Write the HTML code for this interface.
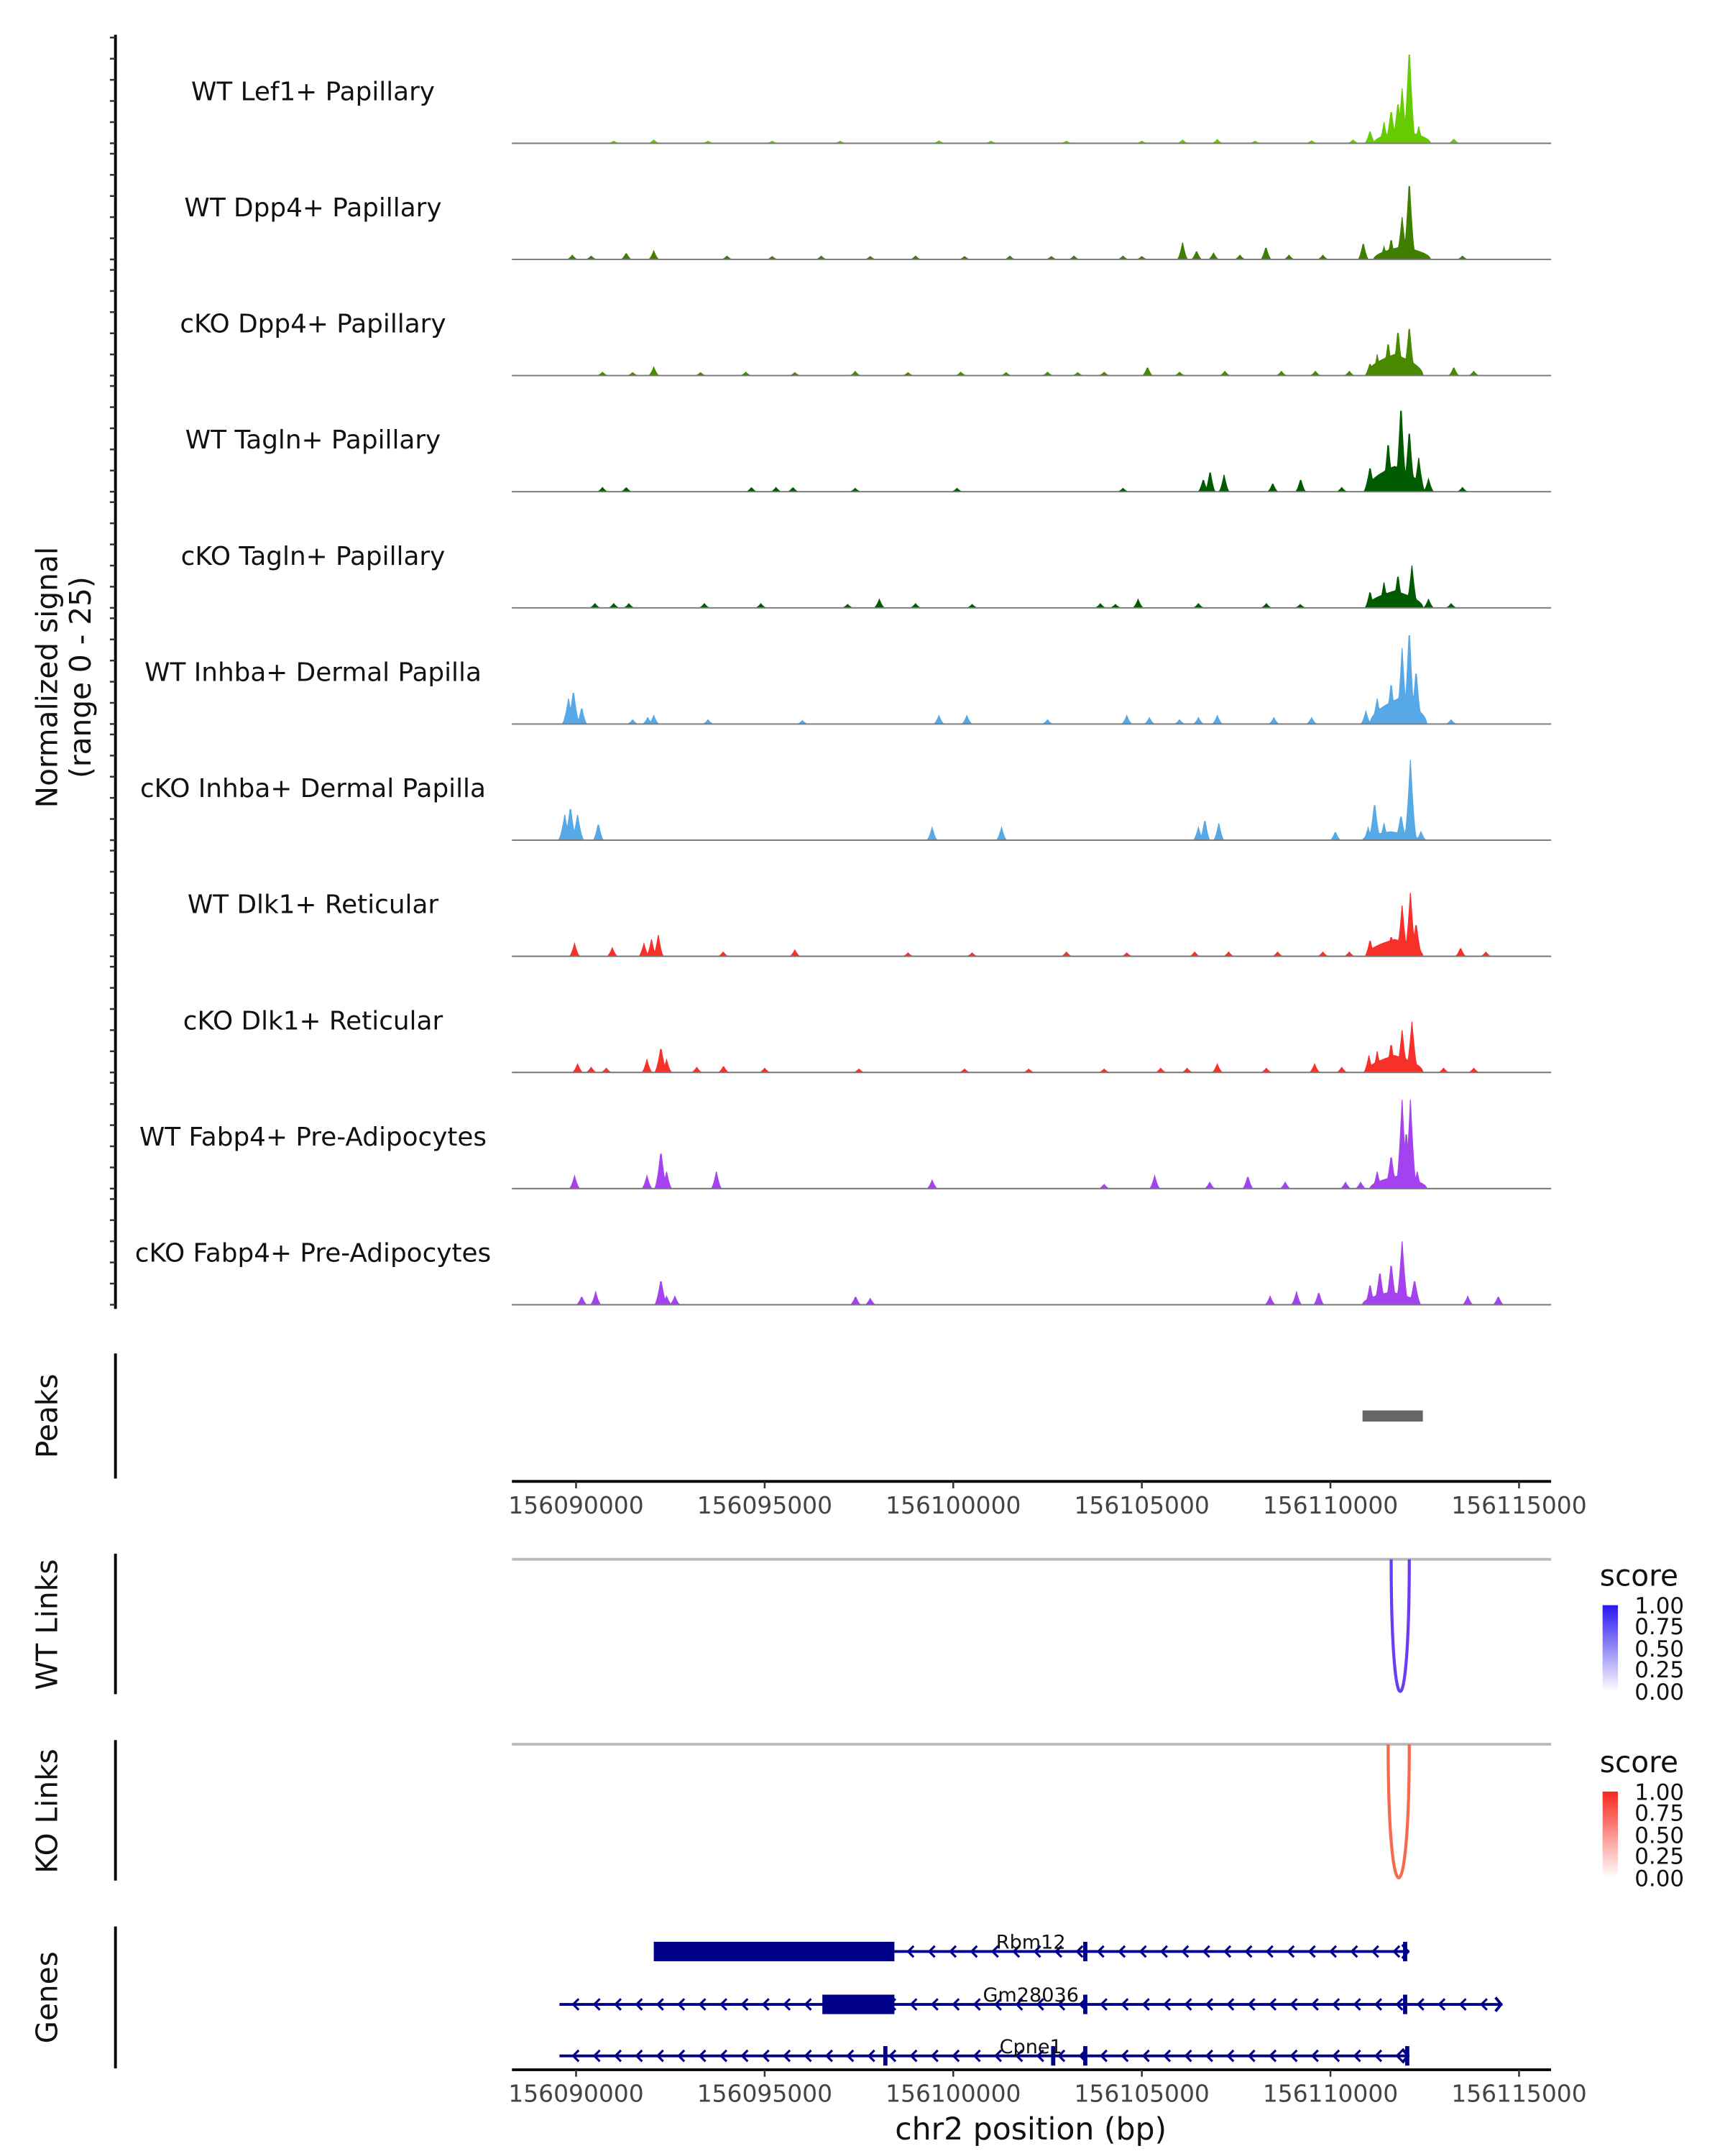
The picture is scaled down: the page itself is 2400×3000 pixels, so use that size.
<!DOCTYPE html>
<html><head><meta charset="utf-8">
<style>
html,body{margin:0;padding:0;background:#fff;}
svg{display:block;font-family:"DejaVu Sans","Liberation Sans",sans-serif;}
</style></head>
<body>
<svg id="chart" xmlns="http://www.w3.org/2000/svg" width="2400" height="3000" viewBox="0 0 1240 1550">
<defs>
<linearGradient id="gBlue" x1="0" y1="1" x2="0" y2="0"><stop offset="0" stop-color="#ffffff"/><stop offset="1" stop-color="#2a16f0"/></linearGradient>
<linearGradient id="gRed" x1="0" y1="1" x2="0" y2="0"><stop offset="0" stop-color="#ffffff"/><stop offset="1" stop-color="#f8281e"/></linearGradient>
</defs>
<g id="tracks"></g>
<text transform="translate(41,487) rotate(-90)" text-anchor="middle" font-size="21" fill="#111">Normalized signal</text>
<text transform="translate(65,487) rotate(-90)" text-anchor="middle" font-size="21" fill="#111">(range 0 - 25)</text>
<g id="peaks">
<line x1="83" y1="973" x2="83" y2="1063" stroke="#000" stroke-width="2"/>
<text transform="translate(41,1018) rotate(-90)" text-anchor="middle" font-size="21" fill="#111">Peaks</text>
</g>
<g id="xaxis1"></g>
<g id="links">
<line x1="83" y1="1117" x2="83" y2="1218" stroke="#000" stroke-width="2"/>
<text transform="translate(41,1168) rotate(-90)" text-anchor="middle" font-size="21" fill="#111">WT Links</text>
<line x1="368" y1="1121" x2="1115" y2="1121" stroke="#bbb" stroke-width="2"/>
<line x1="83" y1="1251" x2="83" y2="1352" stroke="#000" stroke-width="2"/>
<text transform="translate(41,1302) rotate(-90)" text-anchor="middle" font-size="21" fill="#111">KO Links</text>
<line x1="368" y1="1254" x2="1115" y2="1254" stroke="#bbb" stroke-width="2"/>
<g>
<text x="1150" y="1140" font-size="21" fill="#111">score</text>
<rect x="1152" y="1154" width="11" height="62" fill="url(#gBlue)"/>
<g font-size="16" fill="#111"><text x="1175" y="1160">1.00</text><text x="1175" y="1175">0.75</text><text x="1175" y="1191">0.50</text><text x="1175" y="1206">0.25</text><text x="1175" y="1222">0.00</text></g>
</g>
<g>
<text x="1150" y="1274" font-size="21" fill="#111">score</text>
<rect x="1152" y="1288" width="11" height="62" fill="url(#gRed)"/>
<g font-size="16" fill="#111"><text x="1175" y="1294">1.00</text><text x="1175" y="1309">0.75</text><text x="1175" y="1325">0.50</text><text x="1175" y="1340">0.25</text><text x="1175" y="1356">0.00</text></g>
</g>
</g>
<g id="genes">
<line x1="83" y1="1385" x2="83" y2="1487" stroke="#000" stroke-width="2"/>
<text transform="translate(41,1436) rotate(-90)" text-anchor="middle" font-size="21" fill="#111">Genes</text>
</g>
<g id="xaxis2"></g>
<text x="741" y="1538" text-anchor="middle" font-size="22" fill="#111">chr2 position (bp)</text>
</svg>
<script>
// ---- data (positions in kb offset from chr2:156,000,000; heights in signal 0-25) ----
const trackNames = ["WT Lef1+ Papillary","WT Dpp4+ Papillary","cKO Dpp4+ Papillary","WT Tagln+ Papillary","cKO Tagln+ Papillary","WT Inhba+ Dermal Papilla","cKO Inhba+ Dermal Papilla","WT Dlk1+ Reticular","cKO Dlk1+ Reticular","WT Fabp4+ Pre-Adipocytes","cKO Fabp4+ Pre-Adipocytes"];
const trackColors = ["#66cc00","#3f7f00","#4a8800","#005a00","#005a00","#56a8e6","#56a8e6","#f8302a","#f8302a","#a442f0","#a442f0"];
const peakPos0 = [112.09,111.90,111.61,111.42,111.79,111.05,112.34,113.27,92.06,99.62,106.08,107.0,105.0,95.2,91.0,93.5,97.0,101.0,103.0,108.0,109.5,110.6];
const peakHt0  = [23,13,8,5,10,3,4,1,0.8,0.6,0.8,0.9,0.5,0.5,0.5,0.5,0.5,0.5,0.5,0.5,0.6,0.8];
const peakPos1 = [112.09,111.90,111.61,110.87,111.42,92.06,91.33,106.08,108.29,106.45,89.9,94.0,96.5,99.0,101.5,103.2,104.5,107.6,113.5,95.2,97.8,100.3,102.6,105.0,106.9,108.9,109.8,90.4];
const peakHt1  = [19,10,5,4,3,2,1.5,4,3,2,1,0.8,0.8,0.8,0.8,0.8,0.8,1,0.8,0.7,0.7,0.7,0.7,0.7,1.5,1,1,0.8];
const peakPos2 = [112.09,111.79,111.53,111.24,111.05,92.06,105.15,113.27,90.7,94.5,97.4,100.2,102.5,104.0,107.2,108.7,113.8,91.5,93.3,95.8,98.8,101.4,103.3,106.0,109.6,110.5];
const peakHt2  = [12,11,8,5,3,2,2,2,0.8,0.8,1,0.8,0.8,0.8,1,1,1,0.7,0.7,0.7,0.7,0.7,0.7,0.8,1,1];
const peakPos3 = [111.87,112.09,111.53,112.34,111.05,107.18,106.63,106.81,109.21,108.47,90.70,91.33,94.65,95.75,97.4,100.1,104.5,110.3,113.5,112.6,95.3];
const peakHt3  = [21,15,12,8,6,4,3,5,3,2,1,1,1,1,0.8,0.8,0.8,1,1,3,1];
const peakPos4 = [112.16,111.79,111.42,111.05,104.90,98.04,90.5,91.0,93.4,94.9,97.2,99.0,103.9,106.5,108.3,109.2,113.2,91.4,100.5,104.3,112.6];
const peakHt4  = [10,8,6,4,2,2,1,1,1,1,0.8,1,1,1,1,0.8,1,1,0.8,0.8,2];
const peakPos5 = [112.09,111.90,112.27,111.61,111.24,110.94,89.93,90.15,92.06,99.62,100.36,104.60,107.0,91.5,93.5,96.0,102.5,106.0,108.5,109.5,113.2,89.8,91.9,105.2,106.5];
const peakHt5  = [23,18,13,10,6,3,8,4,2,2,2,2,2,1,1,0.8,1,1,1.5,1.5,1,6,1.5,1.5,1.5];
const peakPos6 = [112.12,111.17,111.87,111.42,89.85,90.04,90.59,99.44,101.28,106.67,107.04,110.13,112.4,89.7,106.5,111.0];
const peakHt6  = [19,9,6,4,8,6,4,3,3,5,4,2,2,6,3,3];
const peakPos7 = [112.12,111.90,112.27,111.61,111.05,92.18,89.96,90.96,113.45,114.12,93.9,95.8,98.8,100.5,103.0,104.6,106.4,107.3,108.6,109.8,92.0,91.8,110.5];
const peakHt7  = [15,12,8,5,4,5,3,2,2,1,1,1.5,0.8,0.8,1,0.8,1,1,1,1,4,3,1];
const peakPos8 = [112.16,111.90,111.61,111.24,111.02,92.25,91.88,90.04,93.91,107.0,109.58,90.8,95.0,97.5,100.3,102.0,104.0,105.5,108.3,113.0,113.8,92.4,90.4,93.2,106.2,110.3];
const peakHt8  = [12,10,7,5,4,6,3,2,1.5,2,2,1,1,0.8,0.8,0.8,0.8,1,1,1,1,3,1.2,1.2,1,1.2];
const peakPos9 = [111.90,112.12,112.01,111.61,111.24,92.25,91.88,93.72,89.96,99.44,105.34,107.81,104.0,106.8,108.8,110.4,110.8,92.4,112.3];
const peakHt9  = [21,21,14,8,4,9,3,4,3,2,3,3,1,1.5,1.5,1.5,1.5,4,4];
const peakPos10= [111.90,111.61,111.31,112.23,111.05,92.25,92.62,90.15,90.52,97.41,108.40,109.10,109.69,113.64,114.45,97.8,111.6,92.4];
const peakHt10 = [15,10,8,6,5,6,2,2,3,2,2,3,3,2,2,1.5,4,2];
const humpPos = [111.9,111.9,111.7,111.7,111.7,111.8,111.6,111.7,111.7,111.8,111.6];
const humpHt  = [3,3,5,6,4,6,2,4,4,3,3];
const peakRegions = [[110.85,112.45]];
const xTicks = [90,95,100,105,110,115];
const xTickLabels = ["156090000","156095000","156100000","156105000","156110000","156115000"];
const linkWT = [111.61,112.09,0.8];
const linkKO = [111.53,112.09,0.75];
const geneNames = ["Rbm12","Gm28036","Cpne1"];
const geneStart = [98.44,89.56,89.56];
const geneEnd = [112.09,114.56,112.09];
const cdsStart = [92.06,96.53,111.98];
const cdsEnd = [98.44,98.44,112.09];
const exonMarks = [[103.5,111.98],[103.5,111.98],[98.2,102.65,103.5]];
const allPos=[peakPos0,peakPos1,peakPos2,peakPos3,peakPos4,peakPos5,peakPos6,peakPos7,peakPos8,peakPos9,peakPos10];
const allHt=[peakHt0,peakHt1,peakHt2,peakHt3,peakHt4,peakHt5,peakHt6,peakHt7,peakHt8,peakHt9,peakHt10];

const X0=368,X1=1115,KB0=88.30,KB1=115.85;
function xs(kb){return X0+(kb-KB0)/(KB1-KB0)*(X1-X0);}
const TRACK_TOP=103,TRACK_STEP=83.5,UNIT=3.04;
function ys(i,v){return TRACK_TOP+i*TRACK_STEP - v*UNIT;}
const NS='http://www.w3.org/2000/svg';
function mk(tag,attrs,parent){const e=document.createElementNS(NS,tag);for(const k in attrs)e.setAttribute(k,attrs[k]);parent.appendChild(e);return e;}

const tracks=document.getElementById('tracks');
mk('line',{x1:83,y1:25,x2:83,y2:941,stroke:'#000','stroke-width':2},tracks);
for(let i=0;i<11;i++){
  const g=mk('g',{},tracks);
  
  
  for(let v=0;v<=25;v+=5){
    const y=ys(i,v);
    mk('line',{x1:79,y1:y,x2:83,y2:y,stroke:'#333','stroke-width':1.3},g);
  }
  const lab=mk('text',{x:225,y:ys(i,0)-31,'text-anchor':'middle','font-size':18.5,fill:'#111'},g);
  lab.textContent=trackNames[i];
  
  
  const pos=allPos[i],ht=allHt[i];
  let d='M'+X0+','+ys(i,0);
  for(let kb=KB0;kb<=KB1;kb+=0.02){
    let h=0;
    for(let j=0;j<pos.length;j++){
      const w=ht[j]>5?0.17:0.14;
      const t=1-Math.abs(kb-pos[j])/w;
      if(t>0)h=Math.max(h,ht[j]*Math.pow(t,1.6));
    }
    const th=1-Math.abs(kb-humpPos[i])/0.75;
    if(th>0)h=Math.max(h,humpHt[i]*Math.sqrt(th));
    d+=' L'+xs(kb).toFixed(2)+','+ys(i,h).toFixed(2);
  }
  d+=' L'+X1+','+ys(i,0)+' Z';
  const a=mk('path',{d:d,fill:trackColors[i],stroke:trackColors[i],'stroke-width':0.6},g);
  
  
  mk('line',{x1:X0,y1:ys(i,0),x2:X1,y2:ys(i,0),stroke:'#777','stroke-width':1},g);
}

const pk=document.getElementById('peaks');
peakRegions.forEach(r=>{
  const e=mk('rect',{x:xs(r[0]),y:1014,width:xs(r[1])-xs(r[0]),height:8,fill:'#666'},pk);
  
  
});

function xAxis(gid,y){
  const g=document.getElementById(gid);
  mk('line',{x1:X0,y1:y,x2:X1,y2:y,stroke:'#000','stroke-width':2},g);
  xTicks.forEach((t,k)=>{
    mk('line',{x1:xs(t),y1:y,x2:xs(t),y2:y+5,stroke:'#333','stroke-width':1.3},g);
    const tx=mk('text',{x:xs(t),y:y+23,'text-anchor':'middle','font-size':17,fill:'#444'},g);
    tx.textContent=xTickLabels[k];
    
    
  });
}
xAxis('xaxis1',1065);
xAxis('xaxis2',1488);

const lk=document.getElementById('links');
function arc(l,y0,y1,col){
  const xa=xs(l[0]),xb=xs(l[1]);
  const depth=(y1-y0)*4/3;
  return mk('path',{d:`M${xa},${y0} C${xa},${y0+depth} ${xb},${y0+depth} ${xb},${y0}`,fill:'none',stroke:col,'stroke-width':2.2},lk);
}
const a1=arc(linkWT,1121,1216,'#6a3cf2');


const a2=arc(linkKO,1254,1350,'#f86a50');



const gn=document.getElementById('genes');
const rowY=[1403,1441,1478];
for(let i=0;i<3;i++){
  const g=mk('g',{},gn);
  
  
  const y=rowY[i],c='#00008b';
  mk('line',{x1:xs(geneStart[i]),y1:y,x2:xs(geneEnd[i]),y2:y,stroke:c,'stroke-width':2},g);
  for(let kb=geneStart[i]+0.4;kb<geneEnd[i]-0.2;kb+=0.56){
    const x=xs(kb);
    mk('path',{d:`M${x+3},${y-4} L${x-1},${y} L${x+3},${y+4}`,fill:'none',stroke:c,'stroke-width':1.6},g);
  }
  mk('rect',{x:xs(cdsStart[i]),y:y-7,width:Math.max(3,xs(cdsEnd[i])-xs(cdsStart[i])),height:14,fill:c},g);
  exonMarks[i].forEach(e=>mk('rect',{x:xs(e)-1.5,y:y-7,width:3,height:14,fill:c},g));
  mk('path',{d:`M${xs(geneEnd[i])-5},${y-5} L${xs(geneEnd[i])-1},${y} L${xs(geneEnd[i])-5},${y+5}`,fill:'none',stroke:c,'stroke-width':2},g);
  const t=mk('text',{x:741,y:y-2,'text-anchor':'middle','font-size':14,fill:'#111'},g);
  t.textContent=geneNames[i];
}
</script>
</body></html>
